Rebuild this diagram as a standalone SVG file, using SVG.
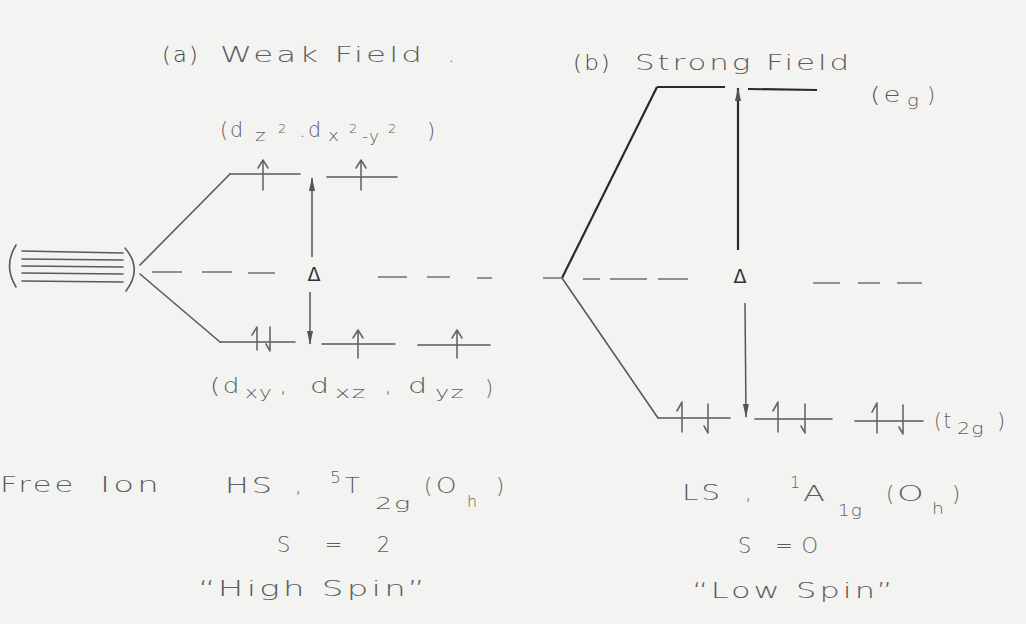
<svg xmlns="http://www.w3.org/2000/svg" width="1026" height="624" viewBox="0 0 1026 624">
<style>
.t{font-family:"DejaVu Sans","Liberation Sans",sans-serif;fill:#5c5c5c;font-size:21px;letter-spacing:2px;font-weight:300}
.s{font-size:16px;letter-spacing:1px}
.p{font-size:13px;letter-spacing:0}
.dl{font-family:"DejaVu Sans",sans-serif;font-size:19px;fill:#333}
.ln{stroke:#5a5a5a;stroke-width:1.6;fill:none;stroke-linecap:round}
.dk{stroke:#2a2a2a;stroke-width:2.2;fill:none}
.d{stroke:#707070;stroke-width:1.5;fill:none}
.e{stroke:#666;stroke-width:1.6;fill:none;stroke-linecap:round;stroke-linejoin:round}
.da{stroke:#555;stroke-width:1.5;fill:none}
</style>
<defs>
<marker id="ah" viewBox="0 0 14 6" refX="13" refY="3" markerWidth="14" markerHeight="6" markerUnits="userSpaceOnUse" orient="auto">
<path d="M0,0 L14,3 L0,6 z" fill="#555"/>
</marker>
</defs>
<rect width="1026" height="624" fill="#f3f3f1"/>

<!-- titles -->
<g id="title-a">
<text class="t" x="162" y="62" textLength="38" lengthAdjust="spacingAndGlyphs" style="fill:#444">(a)</text>
<text class="t" x="220" y="62" textLength="205" lengthAdjust="spacingAndGlyphs">Weak Field</text>
<text class="t" x="448" y="62">.</text>
</g>
<g id="title-b">
<text class="t" x="573" y="70" textLength="39" lengthAdjust="spacingAndGlyphs" style="fill:#444">(b)</text>
<text class="t" x="635" y="70" textLength="217" lengthAdjust="spacingAndGlyphs">Strong Field</text>
</g>

<!-- free ion -->
<g id="free-ion">
<path class="ln" d="M16,245 Q3,266 16,287"/>
<path class="ln" d="M125,248 Q143,269 126,291"/>
<path class="ln" d="M22,251 L123,253 M22,259 L123,260 M22,266 L123,267 M22,273 L123,274 M22,281 L123,282"/>
</g>

<g id="connectors">
<path class="ln" d="M140,265 L230,174"/>
<path class="ln" d="M140,274 L220,342"/>
<path class="d" d="M152,272 L182,272 M202,272 L232,272 M248,273 L275,273 M378,277 L407,277 M427,277 L450,277 M477,278 L492,278"/>
<path class="dk" d="M562,278 L657,87"/>
<path class="ln" d="M562,278 L658,418"/>
<path class="d" d="M543,278 L562,278 M583,279 L600,279 M610,279 L647,279 M658,279 L688,279 M813,283 L840,283 M858,283 L880,283 M897,283 L922,283"/>
</g>

<!-- weak field eg -->
<g id="weak-eg">
<path class="ln" d="M230,174 L300,174"/>
<path class="ln" d="M327,177 L397,177"/>
<path class="e" d="M263,190 L263,160 M258,168 L263,160 L268,168"/>
<path class="e" d="M361,190 L361,160 M356,168 L361,160 L366,168"/>
<text class="t" x="220" y="137" textLength="25" lengthAdjust="spacingAndGlyphs">(d</text>
<text class="t s" x="255" y="141" textLength="12" lengthAdjust="spacingAndGlyphs">z</text>
<text class="t p" x="278" y="133">2</text>
<text class="t" x="299" y="137">.</text>
<text class="t" x="308" y="137" textLength="15" lengthAdjust="spacingAndGlyphs">d</text>
<text class="t s" x="328" y="141" textLength="12" lengthAdjust="spacingAndGlyphs">x</text>
<text class="t p" x="349" y="133">2</text>
<text class="t s" x="362" y="142" textLength="18" lengthAdjust="spacingAndGlyphs">-y</text>
<text class="t p" x="388" y="133">2</text>
<text class="t" x="427" y="138">)</text>
</g>

<!-- weak field t2g -->
<g id="weak-t2g">
<path class="ln" d="M220,342 L295,342"/>
<path class="ln" d="M322,344 L395,344"/>
<path class="ln" d="M418,345 L490,345"/>
<path class="e" d="M257,350 L257,327 L252,335"/>
<path class="e" d="M270,327 L270,351 L266,344"/>
<path class="e" d="M358,358 L358,330 M353,338 L358,330 L363,338"/>
<path class="e" d="M457,358 L457,330 M452,338 L457,330 L462,338"/>
<text class="t" x="210" y="393" textLength="32" lengthAdjust="spacingAndGlyphs">(d</text>
<text class="t s" x="245" y="398" textLength="28" lengthAdjust="spacingAndGlyphs">xy</text>
<text class="t" x="280" y="393">,</text>
<text class="t" x="310" y="393" textLength="22" lengthAdjust="spacingAndGlyphs">d</text>
<text class="t s" x="335" y="398" textLength="32" lengthAdjust="spacingAndGlyphs">xz</text>
<text class="t" x="385" y="393">,</text>
<text class="t" x="408" y="393" textLength="22" lengthAdjust="spacingAndGlyphs">d</text>
<text class="t s" x="435" y="398" textLength="30" lengthAdjust="spacingAndGlyphs">yz</text>
<text class="t" x="485" y="395">)</text>
</g>

<g id="weak-delta">
<path class="da" d="M312,257 L312,178" marker-end="url(#ah)"/>
<path class="da" d="M310,292 L310,344" marker-end="url(#ah)"/>
<text class="dl" x="314" y="281" text-anchor="middle">Δ</text>
</g>

<!-- strong field eg -->
<g id="strong-eg">
<path class="dk" d="M657,87 L725,87"/>
<path class="dk" d="M748,89 L817,90"/>
<text class="t" x="870" y="102" textLength="33" lengthAdjust="spacingAndGlyphs">(e</text>
<text class="t s" x="907" y="106" textLength="13" lengthAdjust="spacingAndGlyphs">g</text>
<text class="t" x="927" y="102">)</text>
</g>

<g id="strong-delta">
<path class="dk" d="M738,250 L738,88" marker-end="url(#ah)"/>
<path class="da" d="M745,303 L746,417" marker-end="url(#ah)"/>
<text class="dl" x="740" y="283" text-anchor="middle">Δ</text>
</g>

<!-- strong field t2g -->
<g id="strong-t2g">
<path class="ln" d="M658,418 L730,418"/>
<path class="ln" d="M755,419 L832,419"/>
<path class="ln" d="M855,421 L923,421"/>
<path class="e" d="M682,432 L682,402 L677,411"/>
<path class="e" d="M708,404 L708,433 L704,426"/>
<path class="e" d="M778,432 L778,402 L773,411"/>
<path class="e" d="M805,404 L805,433 L801,426"/>
<path class="e" d="M877,433 L877,403 L872,412"/>
<path class="e" d="M903,405 L903,434 L899,427"/>
<text class="t" x="934" y="428" textLength="19" lengthAdjust="spacingAndGlyphs">(t</text>
<text class="t s" x="957" y="434" textLength="28" lengthAdjust="spacingAndGlyphs">2g</text>
<text class="t" x="997" y="428">)</text>
</g>

<!-- bottom labels -->
<g id="label-free-ion">
<text class="t" x="0" y="492" textLength="76" lengthAdjust="spacingAndGlyphs">Free</text>
<text class="t" x="100" y="492" textLength="62" lengthAdjust="spacingAndGlyphs">Ion</text>
</g>
<g id="label-hs">
<text class="t" x="225" y="493" textLength="50" lengthAdjust="spacingAndGlyphs">HS</text>
<text class="t" x="295" y="493">,</text>
<text class="t s" x="330" y="483" textLength="12" lengthAdjust="spacingAndGlyphs">5</text>
<text class="t" x="345" y="493" textLength="17" lengthAdjust="spacingAndGlyphs">T</text>
<text class="t s" x="375" y="509" textLength="37" lengthAdjust="spacingAndGlyphs">2g</text>
<text class="t" x="424" y="493">(</text>
<text class="t" x="436" y="493" textLength="23" lengthAdjust="spacingAndGlyphs">O</text>
<text class="t s" x="467" y="507" textLength="11" lengthAdjust="spacingAndGlyphs">h</text>
<text class="t" x="496" y="493">)</text>
<text class="t" x="277" y="552" font-size="22" textLength="115" lengthAdjust="spacing">S = 2</text>
<text class="t" x="198" y="596" textLength="230" lengthAdjust="spacingAndGlyphs">“High Spin”</text>
</g>
<g id="label-ls">
<text class="t" x="682" y="500" textLength="41" lengthAdjust="spacingAndGlyphs">LS</text>
<text class="t" x="745" y="500">,</text>
<text class="t s" x="790" y="488">1</text>
<text class="t" x="803" y="501" textLength="25" lengthAdjust="spacingAndGlyphs">A</text>
<text class="t s" x="838" y="516" textLength="25" lengthAdjust="spacingAndGlyphs">1g</text>
<text class="t" x="886" y="501">(</text>
<text class="t" x="897" y="501" textLength="30" lengthAdjust="spacingAndGlyphs">O</text>
<text class="t s" x="932" y="514" textLength="13" lengthAdjust="spacingAndGlyphs">h</text>
<text class="t" x="952" y="501">)</text>
<text class="t" x="738" y="553" font-size="22" textLength="82" lengthAdjust="spacing">S =O</text>
<text class="t" x="692" y="598" textLength="204" lengthAdjust="spacingAndGlyphs">“Low Spin”</text>
</g>
</svg>
